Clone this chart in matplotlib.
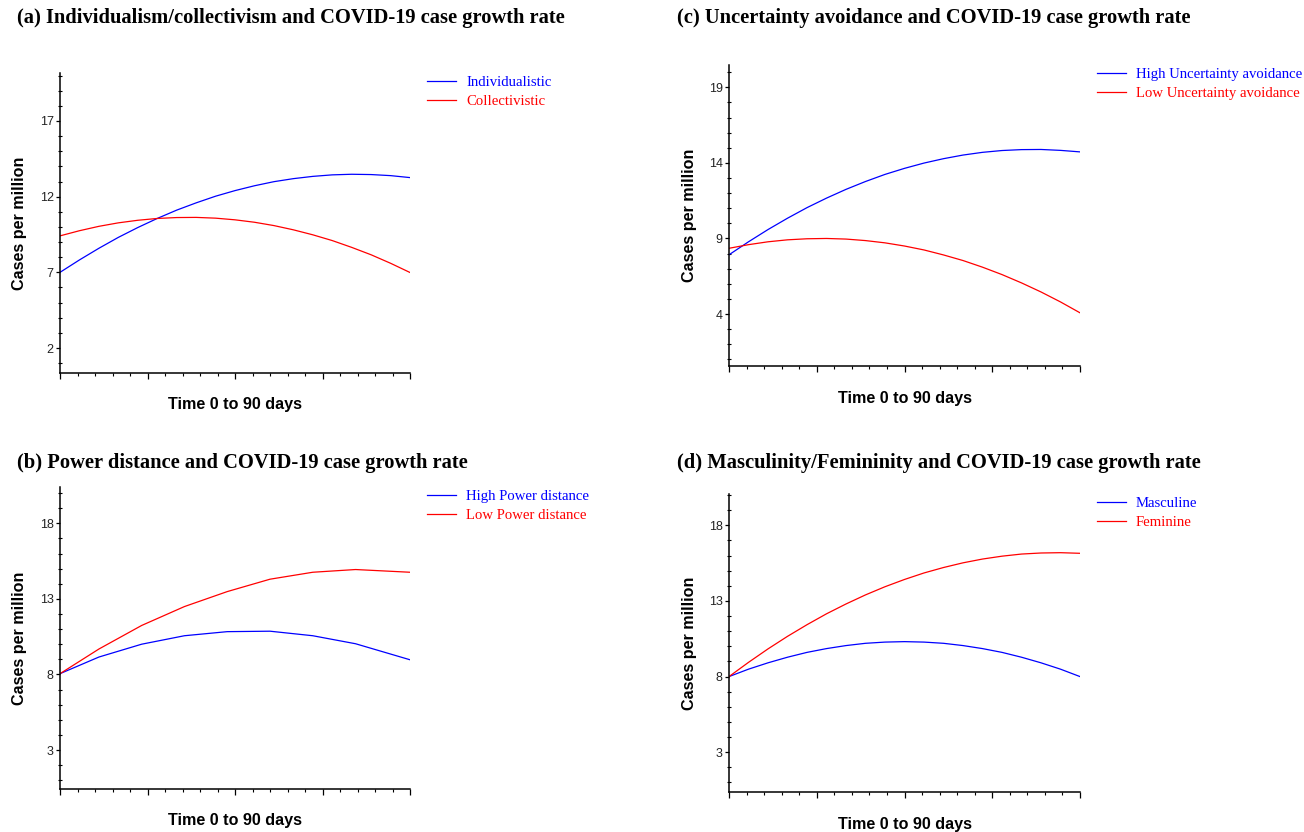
import matplotlib
matplotlib.use("Agg")
import matplotlib.pyplot as plt
from matplotlib.ticker import MultipleLocator, FixedLocator, NullFormatter

# ---------------- data ----------------
days_smooth = [0, 5, 10, 15, 20, 25, 30, 35, 40, 45, 50, 55, 60, 65, 70, 75, 80, 85, 90]

# (a) Individualism / collectivism
individualistic = [7.00, 7.82, 8.59, 9.31, 9.96, 10.56, 11.11, 11.59, 12.03, 12.40,
                   12.72, 12.99, 13.19, 13.34, 13.44, 13.48, 13.46, 13.39, 13.26]
collectivistic = [9.41, 9.75, 10.04, 10.27, 10.44, 10.56, 10.62, 10.63, 10.58, 10.47,
                  10.31, 10.09, 9.81, 9.48, 9.10, 8.65, 8.16, 7.60, 6.99]

# (b) Power distance (piecewise, fewer points)
days_pd = [0, 10, 21, 32, 43, 54, 65, 76, 90]
high_power = [8.05, 9.15, 10.00, 10.56, 10.83, 10.86, 10.56, 10.03, 8.97]
low_power = [8.05, 9.68, 11.24, 12.49, 13.48, 14.30, 14.76, 14.94, 14.76]

# (c) Uncertainty avoidance
high_ua = [7.92, 8.78, 9.59, 10.34, 11.04, 11.67, 12.25, 12.77, 13.24, 13.64,
           13.99, 14.28, 14.52, 14.70, 14.82, 14.88, 14.89, 14.83, 14.73]
low_ua = [8.35, 8.59, 8.78, 8.91, 8.98, 9.00, 8.96, 8.86, 8.71, 8.50,
          8.24, 7.91, 7.54, 7.10, 6.61, 6.06, 5.46, 4.80, 4.08]

# (d) Masculinity / femininity
masculine = [8.00, 8.49, 8.91, 9.28, 9.60, 9.85, 10.05, 10.20, 10.28, 10.31,
             10.28, 10.20, 10.05, 9.85, 9.60, 9.28, 8.91, 8.49, 8.00]
feminine = [8.00, 8.94, 9.83, 10.66, 11.43, 12.15, 12.80, 13.40, 13.94, 14.42,
            14.85, 15.21, 15.52, 15.77, 15.96, 16.10, 16.17, 16.19, 16.15]

titles = [
    "(a) Individualism/collectivism and COVID-19 case growth rate",
    "(b) Power distance and COVID-19 case growth rate",
    "(c) Uncertainty avoidance and COVID-19 case growth rate",
    "(d) Masculinity/Femininity and COVID-19 case growth rate",
]
legend_labels = [
    ("Individualistic", "Collectivistic"),
    ("High Power distance", "Low Power distance"),
    ("High Uncertainty avoidance", "Low Uncertainty avoidance"),
    ("Masculine", "Feminine"),
]
ymajor = [[2, 7, 12, 17], [3, 8, 13, 18], [4, 9, 14, 19], [3, 8, 13, 18]]
ylims = [(0.35, 20.17), (0.42, 20.40), (0.56, 20.48), (0.37, 20.07)]
xlabel = "Time 0 to 90 days"
ylabel = "Cases per million"

# ---------------- layout ----------------
W, H = 1304, 832
fig = plt.figure(figsize=(W / 100, H / 100), dpi=100)

def fx(px):
    return px / W

def fy(py):
    return 1 - py / H

boxes = [  # left, top, right, bottom in pixels
    (60, 73, 410, 373),
    (60, 487, 410, 789),
    (729, 65, 1080, 366),
    (729, 494, 1080, 792),
]
title_pos = [(17, 18), (17, 463), (677, 18), (677, 463)]

series = [
    (days_smooth, individualistic, collectivistic),
    (days_pd, high_power, low_power),
    (days_smooth, high_ua, low_ua),
    (days_smooth, masculine, feminine),
]

serif = ["Liberation Serif", "DejaVu Serif"]
sans = ["Liberation Sans", "DejaVu Sans"]

for i, (l, t, r, b) in enumerate(boxes):
    ax = fig.add_axes([fx(l), fy(b), fx(r - l), (b - t) / H])
    x, s1, s2 = series[i]
    ax.plot(x, s1, color="blue", lw=0.9, label=legend_labels[i][0])
    ax.plot(x, s2, color="red", lw=0.9, label=legend_labels[i][1])
    ax.set_xlim(0, 90)
    ax.set_ylim(*ylims[i])
    for sp in ("top", "right"):
        ax.spines[sp].set_visible(False)
    for sp in ("left", "bottom"):
        ax.spines[sp].set_linewidth(1.1)
    ax.xaxis.set_major_locator(MultipleLocator(22.5))
    ax.xaxis.set_minor_locator(MultipleLocator(4.5))
    ax.xaxis.set_major_formatter(NullFormatter())
    ax.yaxis.set_major_locator(FixedLocator(ymajor[i]))
    ax.yaxis.set_minor_locator(MultipleLocator(1))
    ax.tick_params(axis="x", which="major", direction="out", length=4, width=0.9)
    ax.tick_params(axis="x", which="minor", direction="out", length=2.2, width=0.8)
    ax.tick_params(axis="y", which="major", direction="out", length=3, width=0.9,
                   labelsize=9, labelcolor="#222222", pad=1.5)
    ax.tick_params(axis="y", which="minor", direction="inout", length=3, width=0.8)
    for lab in ax.get_yticklabels():
        lab.set_family(sans)
    ax.text(0.5, -(32 / (b - t)), xlabel, transform=ax.transAxes, ha="center",
            va="center", fontsize=11.6, fontweight="bold", family=sans)
    ax.text(-40 / (r - l), 0.5, ylabel, transform=ax.transAxes,
            ha="center", va="center", rotation=90, fontsize=11.6, fontweight="bold",
            family=sans)
    leg = ax.legend(loc="upper left", bbox_to_anchor=(1.0 + 17 / (r - l), 1.0 - 3 / (b - t)),
                    frameon=False, prop={"family": serif, "size": 10.6},
                    handlelength=1.97, handletextpad=0.68, labelspacing=0.38,
                    borderaxespad=0, borderpad=0)
    for txt, col in zip(leg.get_texts(), ["blue", "red"]):
        txt.set_color(col)
    tx, ty = title_pos[i]
    fig.text(fx(tx), fy(ty), titles[i], ha="left", va="center", fontsize=14.8,
             fontweight="bold", family=serif)

fig.savefig("out.png", dpi=100)
